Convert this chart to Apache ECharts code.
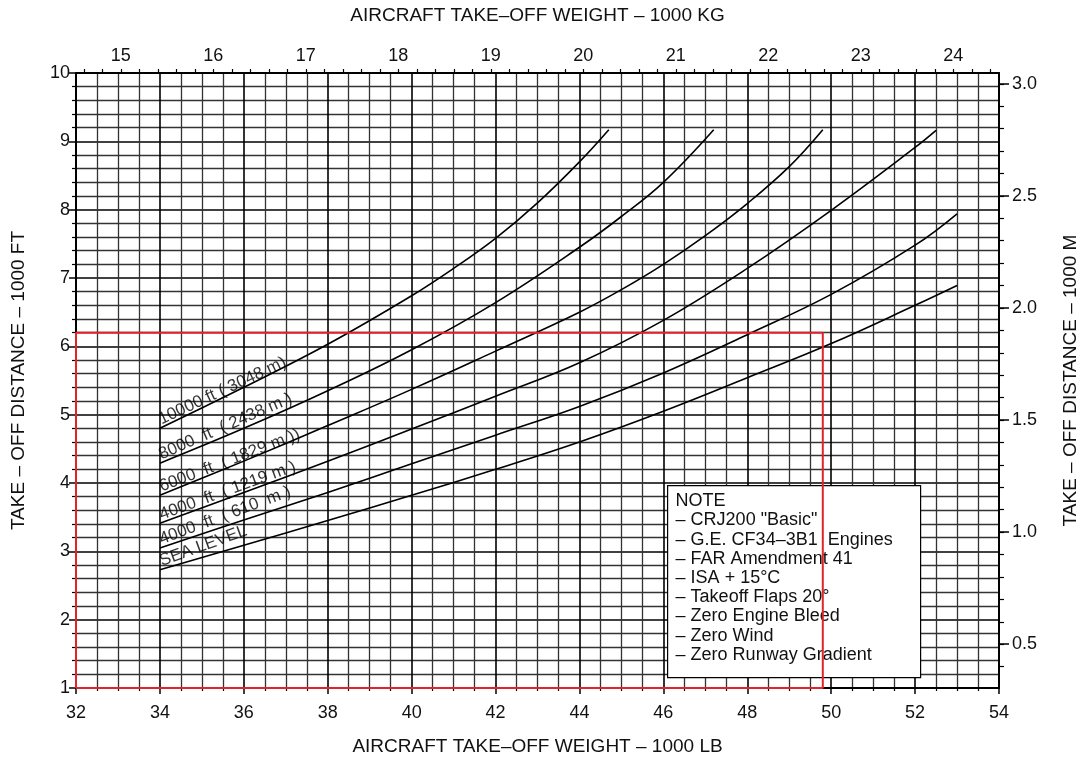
<!DOCTYPE html>
<html><head><meta charset="utf-8">
<script src="https://cdn.jsdelivr.net/npm/echarts@6/dist/echarts.min.js"></script>
<style>html,body{margin:0;padding:0;background:#fff}#c{width:1088px;height:761px}</style>
</head><body><div id="c"></div>
<script>
// unit conversions for the secondary axes
const LB_PER_KG = 2.20462;
const FT_PER_M = 3.28084;

// axis tick labels
const weightTicksLb = [32, 34, 36, 38, 40, 42, 44, 46, 48, 50, 52, 54];
const weightTicksKg = [15, 16, 17, 18, 19, 20, 21, 22, 23, 24];
const distTicksFt = [1, 2, 3, 4, 5, 6, 7, 8, 9, 10];
const distTicksM = [0.5, 1.0, 1.5, 2.0, 2.5, 3.0];

// curves: weight (1000 lb) and take-off distance (1000 ft)
const w10000 = [34, 36, 38, 40, 41, 42, 43, 44, 44.7];
const d10000 = [4.80, 5.40, 6.03, 6.74, 7.14, 7.58, 8.10, 8.70, 9.17];
const w8000 = [34, 36, 38, 40, 42, 44, 45, 46, 47.2];
const d8000 = [4.29, 4.80, 5.35, 5.95, 6.64, 7.45, 7.90, 8.40, 9.17];
const w6000 = [34, 36, 38, 40, 42, 44, 45, 46, 47, 48, 49, 49.8];
const d6000 = [3.82, 4.32, 4.84, 5.37, 5.93, 6.50, 6.83, 7.20, 7.62, 8.09, 8.63, 9.17];
const w4000 = [34, 36, 38, 40, 42, 44, 46, 48, 50, 52, 52.5];
const d4000 = [3.41, 3.86, 4.32, 4.79, 5.27, 5.76, 6.38, 7.14, 7.99, 8.91, 9.16];
const w2000 = [34, 36, 38, 40, 42, 44, 46, 48, 50, 52, 53];
const d2000 = [3.05, 3.46, 3.86, 4.28, 4.70, 5.12, 5.61, 6.17, 6.76, 7.48, 7.94];
const wSL = [34, 36, 38, 40, 42, 44, 46, 48, 50, 52, 53];
const dSL = [2.73, 3.09, 3.45, 3.82, 4.20, 4.60, 5.05, 5.54, 6.04, 6.60, 6.89];

const curveLabels = ['10000 ft ( 3048 m)', '8000  ft  ( 2438 m )', '6000  ft  ( 1829 m ))',
                     '4000  ft  ( 1219 m )', '4000  ft  ( 610  m )', 'SEA LEVEL'];

// red example box (1000 lb, 1000 ft)
const redBoxWeight = [32, 49.8];
const redBoxDist = [1, 6.2];

const noteLines = ['NOTE', '– CRJ200 "Basic"', '– G.E. CF34–3B1  Engines', '– FAR Amendment 41',
                   '– ISA + 15°C', '– Takeoff Flaps 20°', '– Zero Engine Bleed', '– Zero Wind',
                   '– Zero Runway Gradient'];

// ---- build ----
const FONT = '"Liberation Sans", Arial, sans-serif';
const curves = [[w10000, d10000], [w8000, d8000], [w6000, d6000], [w4000, d4000], [w2000, d2000], [wSL, dSL]];
const labelRot = [25, 23.5, 21, 20, 20.5, 20];

const kgMin = weightTicksLb[0] / LB_PER_KG, kgMax = weightTicksLb[weightTicksLb.length - 1] / LB_PER_KG;
const mMin = distTicksFt[0] / FT_PER_M, mMax = distTicksFt[distTicksFt.length - 1] / FT_PER_M;
const kgMinor = [];
for (let k = Math.ceil(kgMin * 5); k <= Math.floor(kgMax * 5); k++) kgMinor.push(+(k / 5).toFixed(1));
const mMinor = [];
for (let k = Math.ceil(mMin * 10); k <= Math.floor(mMax * 10); k++) mMinor.push(+(k / 10).toFixed(1));

const series = [];
curves.forEach(([w, d], i) => {
  series.push({
    type: 'line', xAxisIndex: 0, yAxisIndex: 0, smooth: 0.4, showSymbol: false, silent: true,
    lineStyle: { color: '#000', width: 1.6 },
    data: w.map((x, j) => [x, d[j]]), z: 3
  });
  series.push({
    type: 'scatter', xAxisIndex: 0, yAxisIndex: 0, symbolSize: 0, silent: true, z: 4,
    data: [[w[0], d[0]]],
    label: {
      show: true, formatter: curveLabels[i], position: [0, 0], offset: [3, 1],
      rotate: labelRot[i], align: 'left', verticalAlign: 'bottom',
      fontFamily: FONT, fontSize: 17, color: '#000'
    }
  });
});
series.push({
  type: 'line', xAxisIndex: 0, yAxisIndex: 0, showSymbol: false, silent: true, z: 6,
  lineStyle: { color: '#e3232a', width: 2 },
  data: [[redBoxWeight[0], redBoxDist[0]], [redBoxWeight[0], redBoxDist[1]],
         [redBoxWeight[1], redBoxDist[1]], [redBoxWeight[1], redBoxDist[0]],
         [redBoxWeight[0], redBoxDist[0]]]
});

const axisLine = { show: true, lineStyle: { color: '#000', width: 2 } };
const lbl = { fontFamily: FONT, fontSize: 18, color: '#111' };
const nameStyle = { fontFamily: FONT, fontSize: 19, color: '#111' };

const option = {
  animation: false,
  backgroundColor: '#fff',
  grid: { left: 76, right: 83, top: 73, bottom: 71, containLabel: false },
  xAxis: [
    {
      type: 'value', position: 'bottom', min: weightTicksLb[0], max: weightTicksLb[weightTicksLb.length - 1], interval: 2,
      axisLine, axisTick: { show: true, length: 6, lineStyle: { color: '#000', width: 1.5 } },
      minorTick: { show: true, splitNumber: 4, length: 3, lineStyle: { color: '#000', width: 1.2 } },
      axisLabel: Object.assign({ margin: 16 }, lbl),
      splitLine: { show: true, lineStyle: { color: '#000', width: 1.6 } },
      minorSplitLine: { show: true, lineStyle: { color: '#333', width: 1.3 } },
      name: 'AIRCRAFT TAKE–OFF WEIGHT – 1000 LB', nameLocation: 'middle', nameGap: 49, nameTextStyle: nameStyle
    },
    {
      type: 'value', position: 'top', min: kgMin, max: kgMax,
      axisLine,
      axisTick: { show: true, length: 4, customValues: kgMinor, lineStyle: { color: '#000', width: 1.2 } },
      axisLabel: Object.assign({ margin: 8, customValues: weightTicksKg, formatter: v => String(Math.round(v)) }, lbl),
      splitLine: { show: false },
      name: 'AIRCRAFT TAKE–OFF WEIGHT – 1000 KG', nameLocation: 'middle', nameGap: 48, nameTextStyle: nameStyle
    }
  ],
  yAxis: [
    {
      type: 'value', position: 'left', min: distTicksFt[0], max: distTicksFt[distTicksFt.length - 1], interval: 1,
      axisLine, axisTick: { show: true, length: 7, lineStyle: { color: '#000', width: 1.5 } },
      minorTick: { show: true, splitNumber: 5, length: 4, lineStyle: { color: '#000', width: 1.2 } },
      axisLabel: Object.assign({ margin: 6 }, lbl),
      splitLine: { show: true, lineStyle: { color: '#000', width: 1.6 } },
      minorSplitLine: { show: true, lineStyle: { color: '#333', width: 1.3 } },
      name: 'TAKE – OFF DISTANCE – 1000 FT', nameLocation: 'middle', nameGap: 48, nameRotate: 90, nameTextStyle: nameStyle
    },
    {
      type: 'value', position: 'right', min: mMin, max: mMax,
      axisLine,
      axisTick: { show: true, length: 10, customValues: distTicksM, lineStyle: { color: '#000', width: 1.5 } },
      axisLabel: Object.assign({ margin: 13, customValues: distTicksM, formatter: v => v.toFixed(1) }, lbl),
      splitLine: { show: false },
      name: 'TAKE – OFF DISTANCE – 1000 M', nameLocation: 'middle', nameGap: 62, nameRotate: 90, nameTextStyle: nameStyle
    },
    {
      type: 'value', position: 'right', min: mMin, max: mMax,
      axisLine: { show: false },
      axisTick: { show: true, length: 5, customValues: mMinor, lineStyle: { color: '#000', width: 1.2 } },
      axisLabel: { show: false }, splitLine: { show: false }
    }
  ],
  graphic: [{
    type: 'group', left: 667, top: 485, z: 1,
    children: [
      { type: 'rect', z: 1, shape: { x: 0, y: 0, width: 253, height: 192 }, style: { fill: '#fff', stroke: '#000', lineWidth: 1.2 } },
      { type: 'text', z: 1, x: 8, y: 6, style: { text: noteLines.join('\n'), font: '18px ' + FONT, lineHeight: 19.2, fill: '#111' } }
    ]
  }],
  series
};

const chart = echarts.init(document.getElementById('c'), null, { renderer: 'canvas' });
chart.setOption(option);
</script>
</body></html>
